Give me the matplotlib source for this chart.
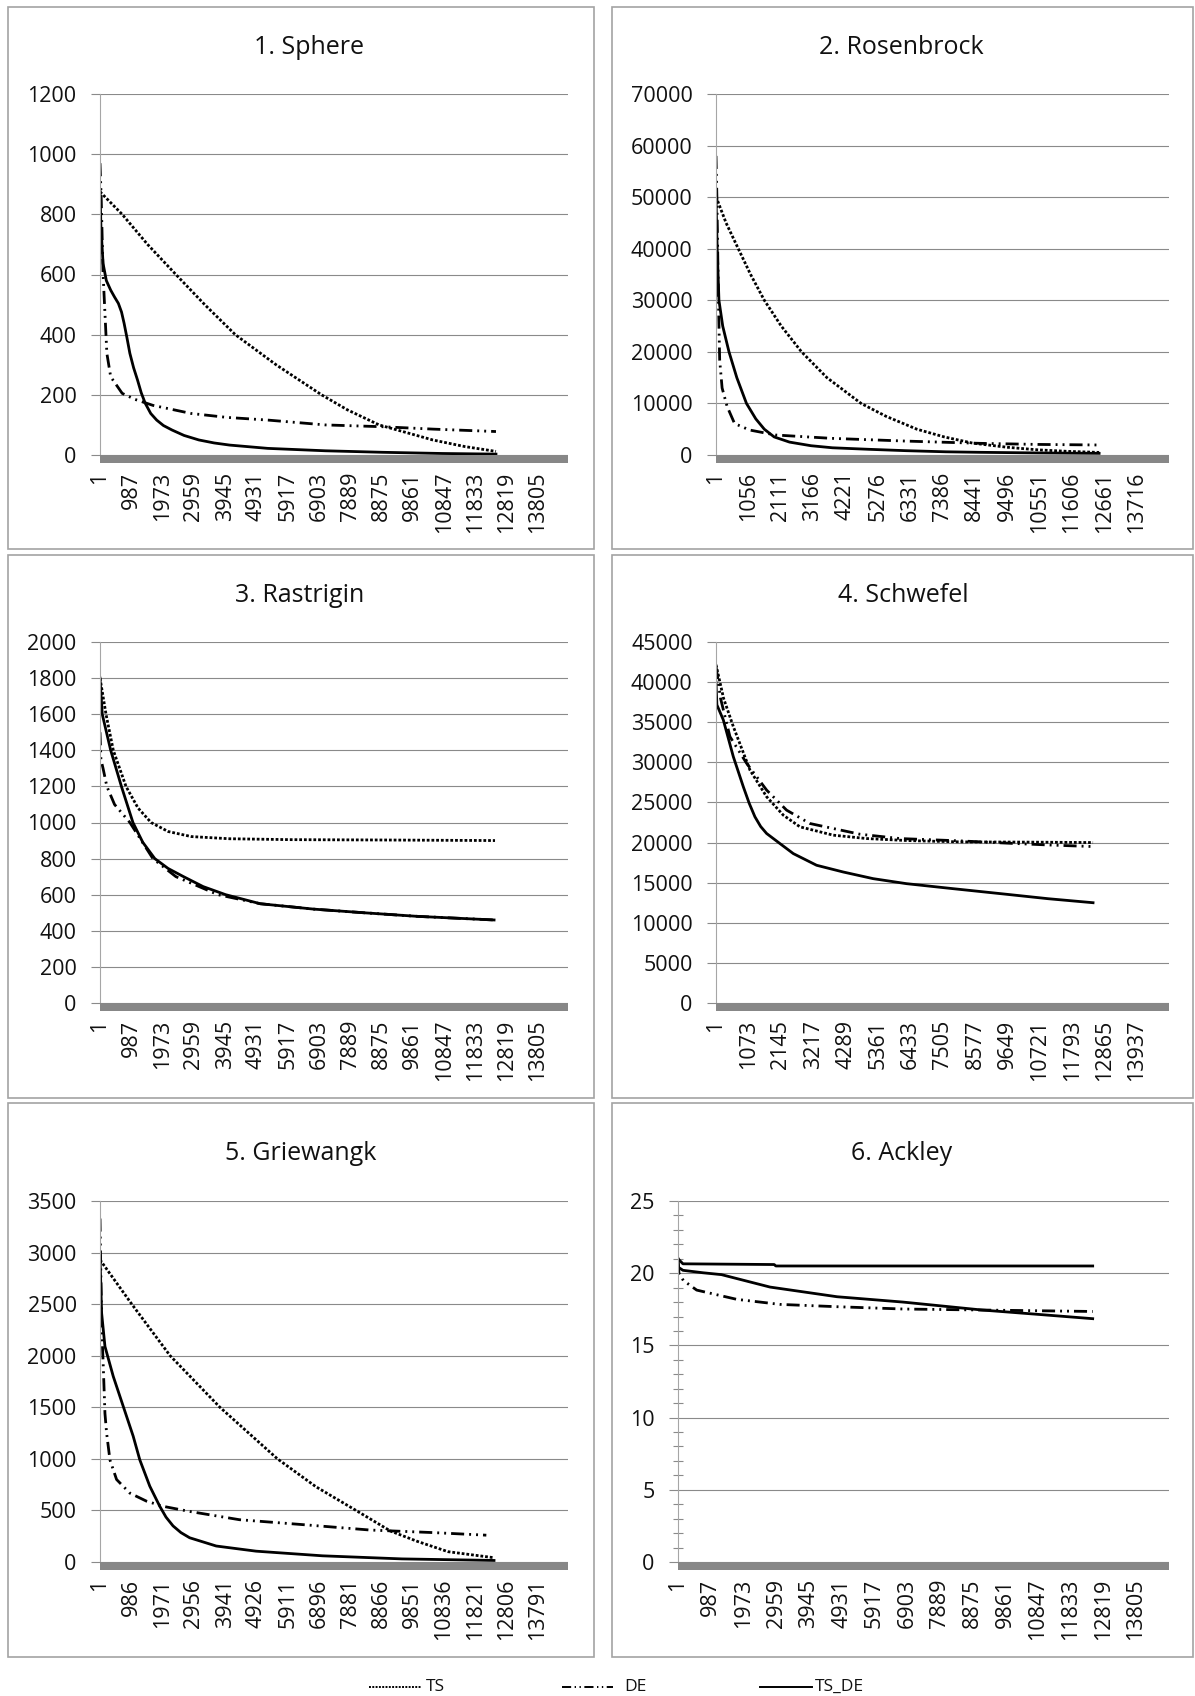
import matplotlib
matplotlib.use('Agg')
import matplotlib.pyplot as plt
from matplotlib.lines import Line2D
from matplotlib.patches import Rectangle
from matplotlib.ticker import MultipleLocator

plt.rcParams['font.family'] = ['Open Sans', 'DejaVu Sans']

# ---------------- DATA ----------------
TITLES = ["1. Sphere", "2. Rosenbrock", "3. Rastrigin", "4. Schwefel", "5. Griewangk", "6. Ackley"]
SERIES = ["TS", "DE", "TS_DE"]

# x tick label step (Excel category axis label interval) and number of categories
TICK_STEP = [986, 1055, 986, 1072, 985, 986]
TICK_COUNT = [15, 14, 15, 14, 15, 15]
N_CATEGORIES = [14750, 14780, 14750, 15000, 14740, 14800]
Y_MAX = [1200, 70000, 2000, 45000, 3500, 25]
Y_STEP = [200, 10000, 200, 5000, 500, 5]

# 1. Sphere
sphere_ts_x = [1, 700, 1500, 2392, 3300, 4265, 5550, 6984, 7800, 8797, 10488, 11500, 12480]
sphere_ts_y = [875, 800, 700, 600, 500, 400, 300, 200, 150, 100, 50, 28, 12]
sphere_de_x = [1, 40, 97, 217, 338, 700, 1100, 1668, 2876, 4000, 5300, 7100, 8900, 10500, 12480]
sphere_de_y = [970, 850, 604, 338, 260, 205, 185, 165, 138, 125, 116, 100, 94, 86, 78]
sphere_tsde_x = [1, 30, 97, 200, 338, 460, 580, 680, 760, 850, 942, 1060, 1184, 1300, 1426, 1600, 1788,
                 2000, 2272, 2650, 3117, 3600, 4084, 5292, 7105, 8900, 10800, 12480]
sphere_tsde_y = [880, 760, 637, 580, 548, 525, 504, 475, 438, 390, 338, 290, 249, 207, 172, 138, 116,
                 98, 83, 65, 50, 40, 33, 22, 14, 9, 5, 3]

# 2. Rosenbrock
rosen_ts_x = [1, 330, 728, 1130, 1578, 2130, 2792, 3620, 4735, 5550, 6556, 7450, 8377, 9500, 10500, 11500, 12500]
rosen_ts_y = [50100, 45000, 40000, 35000, 30000, 25000, 20000, 15000, 10000, 7500, 5000, 3500, 2300, 1500, 1000, 700, 500]
rosen_de_x = [1, 30, 80, 121, 200, 364, 607, 1093, 1942, 3763, 6191, 8620, 10500, 12500]
rosen_de_y = [58000, 50000, 30000, 18400, 13000, 9400, 6100, 4850, 3880, 3230, 2700, 2260, 2050, 1940]
rosen_tsde_x = [1, 40, 97, 220, 425, 680, 995, 1300, 1578, 1900, 2400, 3100, 3800, 5000, 6191, 7500, 8620, 10500, 12500]
rosen_tsde_y = [50000, 40000, 30000, 25000, 20000, 15000, 10000, 7000, 5000, 3500, 2500, 1800, 1400, 1100, 840, 620, 520, 400, 320]

# 3. Rastrigin
rast_ts_x = [1, 190, 420, 820, 1200, 1610, 2150, 2880, 4080, 6000, 9000, 12450]
rast_ts_y = [1800, 1600, 1400, 1200, 1080, 1000, 950, 922, 910, 905, 903, 900]
rast_de_x = [1, 30, 97, 217, 459, 942, 1668, 2393, 3722, 5050, 6742, 8313, 10006, 12420]
rast_de_y = [1500, 1350, 1300, 1200, 1100, 1000, 800, 700, 600, 550, 520, 500, 480, 460]
rast_tsde_x = [1, 72, 338, 676, 1039, 1350, 1728, 2150, 2634, 3250, 3963, 5050, 6742, 8313, 10006, 12420]
rast_tsde_y = [1800, 1600, 1400, 1200, 1000, 890, 800, 745, 700, 645, 600, 550, 520, 500, 480, 460]

# 4. Schwefel
schw_ts_x = [1, 250, 574, 1125, 1677, 2228, 2780, 3883, 4986, 6335, 8074, 10500, 12485]
schw_ts_y = [42170, 38000, 34460, 29040, 25710, 23420, 21960, 20920, 20500, 20250, 20083, 20050, 20000]
schw_de_x = [1, 150, 463, 1015, 1677, 2338, 3110, 3883, 4765, 6089, 8074, 9800, 11000, 12485]
schw_de_y = [42000, 38000, 33200, 29875, 26540, 24040, 22375, 21750, 21040, 20500, 20210, 19900, 19700, 19500]
schw_tsde_x = [1, 30, 243, 574, 905, 1100, 1290, 1480, 1677, 2118, 2560, 3331, 4213, 5206, 6310, 7854, 9500, 11000, 12485]
schw_tsde_y = [40000, 37170, 35290, 30710, 26960, 24900, 23210, 22000, 21130, 19875, 18625, 17170, 16330, 15500, 14875, 14250,
               13600, 13000, 12500]

# 5. Griewangk
grie_ts_x = [1, 1002, 2210, 3778, 5590, 6800, 8064, 9150, 9995, 10961, 12400]
grie_ts_y = [2930, 2500, 2000, 1500, 1000, 730, 500, 300, 200, 100, 42]
grie_de_x = [1, 52, 105, 157, 209, 314, 523, 941, 1464, 1987, 2824, 4393, 6485, 8500, 10500, 12168]
grie_de_y = [3330, 2310, 1890, 1440, 1250, 990, 800, 668, 590, 540, 490, 410, 360, 310, 285, 260]
grie_tsde_x = [1, 52, 157, 418, 732, 1046, 1255, 1569, 1883, 2080, 2301, 2550, 2824, 3661, 4916, 7008, 9512, 12410]
grie_tsde_y = [2960, 2413, 2090, 1800, 1510, 1220, 990, 735, 540, 435, 350, 285, 235, 155, 105, 60, 30, 15]

# 6. Ackley
ack_ts_x = [1, 150, 2900, 2950, 12500]
ack_ts_y = [21.0, 20.65, 20.6, 20.5, 20.5]
ack_de_x = [1, 30, 161, 564, 1770, 3075, 4785, 6784, 9164, 10847, 12500]
ack_de_y = [20.8, 20.0, 19.5, 18.83, 18.19, 17.84, 17.68, 17.52, 17.45, 17.4, 17.35]
ack_tsde_x = [1, 20, 150, 754, 1312, 2774, 4794, 6784, 9164, 10847, 12500]
ack_tsde_y = [21.0, 20.4, 20.2, 20.03, 19.9, 19.04, 18.37, 18.0, 17.45, 17.15, 16.85]

PANEL_DATA = [
    [(sphere_ts_x, sphere_ts_y), (sphere_de_x, sphere_de_y), (sphere_tsde_x, sphere_tsde_y)],
    [(rosen_ts_x, rosen_ts_y), (rosen_de_x, rosen_de_y), (rosen_tsde_x, rosen_tsde_y)],
    [(rast_ts_x, rast_ts_y), (rast_de_x, rast_de_y), (rast_tsde_x, rast_tsde_y)],
    [(schw_ts_x, schw_ts_y), (schw_de_x, schw_de_y), (schw_tsde_x, schw_tsde_y)],
    [(grie_ts_x, grie_ts_y), (grie_de_x, grie_de_y), (grie_tsde_x, grie_tsde_y)],
    [(ack_ts_x, ack_ts_y), (ack_de_x, ack_de_y), (ack_tsde_x, ack_tsde_y)],
]

# ---------------- LAYOUT / STYLE ----------------
W, H = 1195, 1696
fig = plt.figure(figsize=(W / 100, H / 100), dpi=100)
fig.patch.set_facecolor('white')

def fx(px):
    return px / W

def fy(py):
    return 1 - py / H

LW = 2.0
STYLES = {
    "TS": dict(color='black', lw=LW, linestyle=(0, (1.0, 0.7))),
    "DE": dict(color='black', lw=LW, linestyle=(0, (4.7, 1.8, 0.7, 1.8, 0.7, 1.8))),
    "TS_DE": dict(color='black', lw=LW, linestyle='-'),
}
GRID_C = '#8a8a8a'
BOX_C = '#a3a3a3'
TEXT_C = '#111111'
BAR_C = '#878787'

AX_RECTS = [  # left, top, right, bottom in pixels
    (100, 94, 568, 455),
    (716, 94, 1169, 455),
    (100, 642, 568, 1003),
    (716, 642, 1169, 1003),
    (100, 1201, 568, 1562),
    (678, 1201, 1169, 1562),
]
BOXES = [
    (8, 7, 594, 549), (612, 7, 1193, 549),
    (8, 555, 594, 1098), (612, 555, 1193, 1098),
    (8, 1103, 594, 1657), (612, 1103, 1193, 1657),
]
TITLE_POS = [(309, 47), (901, 47), (300, 595), (903, 595), (301, 1153), (902, 1153)]

# panel boxes
for (x0, y0, x1, y1) in BOXES:
    fig.add_artist(Rectangle((fx(x0), fy(y1)), fx(x1 - x0), (y1 - y0) / H,
                             transform=fig.transFigure, fill=False,
                             edgecolor=BOX_C, linewidth=1.2))

for i in range(6):
    l, t, r, b = AX_RECTS[i]
    ax = fig.add_axes([fx(l), fy(b), fx(r - l), (b - t) / H])
    for s, (xs, ys) in zip(SERIES, PANEL_DATA[i]):
        st = dict(STYLES[s])
        if i == 5 and s == "TS":
            st['linestyle'] = '-'
        ax.plot(xs, ys, **st)

    ax.set_xlim(1, N_CATEGORIES[i])
    ax.set_ylim(0, Y_MAX[i])
    xt = [1 + k * TICK_STEP[i] for k in range(TICK_COUNT[i])]
    ax.set_xticks(xt)
    ax.set_xticklabels([str(v) for v in xt], rotation=90)
    yt = list(range(0, Y_MAX[i] + 1, Y_STEP[i]))
    ax.set_yticks(yt)
    ax.set_yticklabels([str(v) for v in yt])

    ax.yaxis.grid(True, color=GRID_C, linewidth=0.8)
    ax.xaxis.grid(False)
    for sp in ['top', 'right', 'bottom']:
        ax.spines[sp].set_visible(False)
    ax.spines['left'].set_color('#a6a6a6')
    ax.spines['left'].set_linewidth(0.8)

    ax.tick_params(axis='y', which='major', direction='out', length=6.3, width=0.8,
                   color=GRID_C, pad=10.5, labelsize=15.5, labelcolor=TEXT_C)
    ax.tick_params(axis='x', length=0, pad=12, labelsize=15.5, labelcolor=TEXT_C)
    if i == 5:
        ax.yaxis.set_minor_locator(MultipleLocator(1))
        ax.tick_params(axis='y', which='minor', direction='inout', length=6.5,
                       width=0.8, color=GRID_C)

    # thick grey category-axis bar under zero
    fig.add_artist(Rectangle((fx(l), fy(b + 8)), fx(r - l), 8 / H,
                             transform=fig.transFigure, facecolor=BAR_C,
                             edgecolor='none', zorder=5))

    tx, ty = TITLE_POS[i]
    fig.text(fx(tx), fy(ty), TITLES[i], ha='center', va='center',
             fontsize=18, color=TEXT_C)

# legend
LEG_Y = 1687
LEG = [("TS", 369, 421, 426), ("DE", 562, 613, 624), ("TS_DE", 760, 812, 815)]
for name, x0, x1, xt in LEG:
    st = STYLES[name]
    fig.add_artist(Line2D([fx(x0), fx(x1)], [fy(LEG_Y), fy(LEG_Y)],
                          transform=fig.transFigure, color='black', lw=1.4,
                          linestyle=st['linestyle']))
    fig.text(fx(xt), fy(LEG_Y), name, ha='left', va='center', fontsize=12.5,
             color=TEXT_C)

fig.savefig('out.png', dpi=100, facecolor='white')
